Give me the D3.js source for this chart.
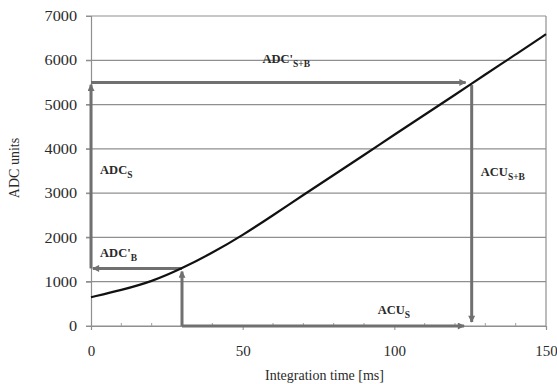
<!DOCTYPE html>
<html>
<head>
<meta charset="utf-8">
<script src="https://cdn.jsdelivr.net/npm/d3@7"></script>
<style>
  body { margin: 0; background: #fff; }
  svg { display: block; }
  text { font-family: "Liberation Serif", "Times New Roman", serif; fill: #2a2a2a; }
</style>
</head>
<body>
<svg></svg>
<script>
// данные
const timeMs = [0, 10, 20, 30, 40, 50, 60, 70, 80, 90, 100, 110, 120, 130, 140, 150];
const adcValues = [650, 810, 1000, 1300, 1650, 2050, 2500, 2960, 3410, 3860, 4320, 4770, 5220, 5680, 6130, 6590];
const yTicks = [0, 1000, 2000, 3000, 4000, 5000, 6000, 7000];
const xTicks = [0, 50, 100, 150];

// стрелки: [x1, y1, x2, y2] в единицах графика
const arrows = [
    [30, 1300, 0.6, 1300],
    [0, 1300, 0, 5450],
    [0, 5500, 123.5, 5500],
    [125.5, 5440, 125.5, 90],
    [30, 0, 123, 0],
    [30, 0, 30, 1230]
];

// подписи: основной текст, индекс, позиция (ms, ADC)
const labels = [
    { main: "ADC'", sub: "S+B", x: 56.5, y: 5930 },
    { main: "ADC", sub: "S", x: 3, y: 3430 },
    { main: "ADC'", sub: "B", x: 3, y: 1560 },
    { main: "ACU", sub: "S+B", x: 128.5, y: 3385 },
    { main: "ACU", sub: "S", x: 94.5, y: 270 }
];

const width = 557, height = 384;
const margin = { left: 91, right: 11, top: 16, bottom: 58 };

const svg = d3.select("svg").attr("width", width).attr("height", height);

const x = d3.scaleLinear().domain([0, 150]).range([margin.left, width - margin.right]);
const y = d3.scaleLinear().domain([0, 7000]).range([height - margin.bottom, margin.top]);

// сетка
svg.append("g")
    .selectAll("line")
    .data(yTicks)
    .join("line")
    .attr("x1", x(0) - 5)
    .attr("x2", x(150))
    .attr("y1", d => y(d))
    .attr("y2", d => y(d))
    .style("stroke", "#8f8f8f")
    .style("stroke-width", 1.2);

// правая граница
svg.append("line")
    .attr("x1", x(150)).attr("x2", x(150))
    .attr("y1", y(0)).attr("y2", y(7000))
    .style("stroke", "#8f8f8f")
    .style("stroke-width", 1.2);

// ось Y
const yAxis = svg.append("g")
    .attr("transform", `translate(${x(0)},0)`)
    .call(d3.axisLeft(y).tickValues(yTicks).tickSize(5).tickPadding(10).tickFormat(d3.format("d")));
yAxis.select(".domain").style("stroke", "#8f8f8f").style("stroke-width", 1.2);
yAxis.selectAll(".tick line").style("stroke", "#8f8f8f");
yAxis.selectAll("text")
    .style("font-size", "14.5px")
    .attr("transform", "scale(1.12,1)")
    .attr("x", -12.5);

// ось X
const xAxis = svg.append("g")
    .attr("transform", `translate(0,${y(0)})`)
    .call(d3.axisBottom(x).tickValues(xTicks).tickSize(4).tickPadding(15));
xAxis.select(".domain").style("stroke", "#8f8f8f").style("stroke-width", 1.2);
xAxis.selectAll(".tick line").style("stroke", "#8f8f8f");
xAxis.selectAll("text").style("font-size", "15px");

// мелкие засечки по X
svg.append("g")
    .selectAll("line")
    .data(d3.range(10, 150, 10).filter(d => d % 50 !== 0))
    .join("line")
    .attr("x1", d => x(d)).attr("x2", d => x(d))
    .attr("y1", y(0)).attr("y2", y(0) - 3)
    .style("stroke", "#a0a0a0");

// подписи осей
svg.append("text")
    .attr("transform", `translate(19,${(y(0) + y(7000)) / 2 - 3}) rotate(-90)`)
    .attr("text-anchor", "middle")
    .style("font-size", "14px")
    .text("ADC units");

svg.append("text")
    .attr("x", (x(0) + x(150)) / 2 + 6)
    .attr("y", 380)
    .attr("text-anchor", "middle")
    .style("font-size", "14px")
    .text("Integration time [ms]");

// маркер стрелки
svg.append("defs").append("marker")
    .attr("id", "arrow")
    .attr("viewBox", "0 0 10 10")
    .attr("refX", 9)
    .attr("refY", 5)
    .attr("markerWidth", 8)
    .attr("markerHeight", 7)
    .attr("markerUnits", "userSpaceOnUse")
    .attr("orient", "auto")
    .append("path")
    .attr("d", "M0,0 L10,5 L0,10 z")
    .style("fill", "#707070");

svg.append("g")
    .selectAll("line")
    .data(arrows)
    .join("line")
    .attr("x1", d => x(d[0]))
    .attr("y1", d => y(d[1]))
    .attr("x2", d => x(d[2]))
    .attr("y2", d => y(d[3]))
    .attr("marker-end", "url(#arrow)")
    .style("stroke", "#707070")
    .style("stroke-width", 3);

// кривая
const line = d3.line()
    .x((d, i) => x(timeMs[i]))
    .y(d => y(d))
    .curve(d3.curveBasis);

svg.append("path")
    .datum(adcValues)
    .attr("d", line)
    .style("fill", "none")
    .style("stroke", "#111")
    .style("stroke-width", 2.2);

// текстовые подписи с индексами
labels.forEach(l => {
    const t = svg.append("text")
        .attr("x", x(l.x))
        .attr("y", y(l.y))
        .style("font-weight", "bold")
        .style("font-size", "12.5px");
    t.append("tspan").text(l.main);
    t.append("tspan")
        .attr("dy", 4)
        .style("font-size", "9.5px")
        .text(l.sub);
});
</script>
</body>
</html>
